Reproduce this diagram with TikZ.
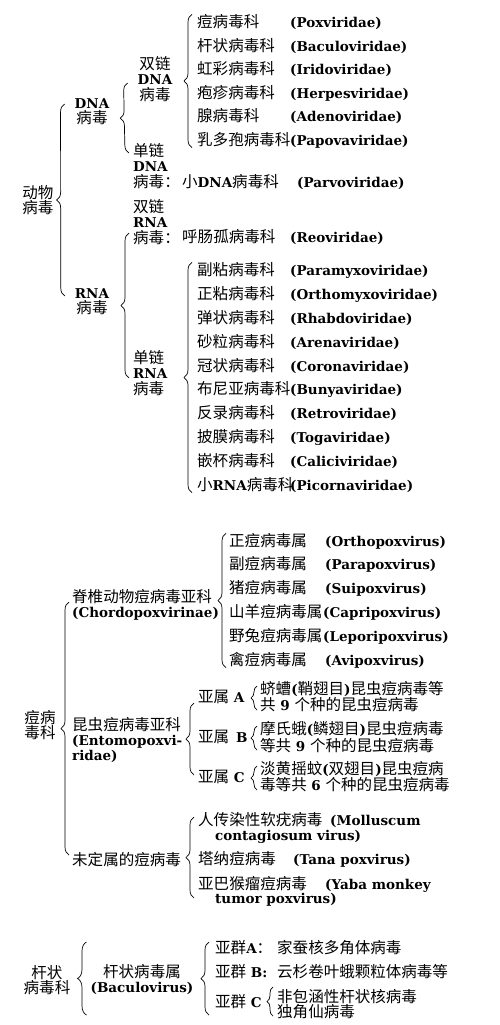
\documentclass[tikz,border=0pt]{standalone}
\usepackage{fontspec}
\setmainfont{DejaVu Serif}
\newfontfamily\cjk{Noto Sans CJK SC}[Scale=1.15]
\usetikzlibrary{decorations.pathreplacing}

% switch to the CJK font for Chinese characters
\XeTeXinterchartokenstate=1
\newXeTeXintercharclass\cjkclass
\newcount\cjkcode
\cjkcode="3000
\loop
  \XeTeXcharclass\cjkcode=\cjkclass
  \advance\cjkcode by 1
\ifnum\cjkcode<"A000 \repeat
\cjkcode="FF00
\loop
  \XeTeXcharclass\cjkcode=\cjkclass
  \advance\cjkcode by 1
\ifnum\cjkcode<"FFF0 \repeat
\XeTeXinterchartoks 0 \cjkclass = {\begingroup\cjk\mdseries}
\XeTeXinterchartoks 4095 \cjkclass = {\begingroup\cjk\mdseries}
\XeTeXinterchartoks \cjkclass 0 = {\endgroup}
\XeTeXinterchartoks \cjkclass 4095 = {\endgroup}

\tikzset{
  txt/.style={anchor=west, inner sep=0pt, text height=13pt, text depth=2pt},
  lbl/.style={inner sep=0pt, align=center},
  lbll/.style={inner sep=0pt, align=left, anchor=west},
  tall/.style={font=\fontsize{13.5}{15.5}\selectfont\bfseries},
  brace/.style={decorate, decoration={brace, amplitude=8pt}, line width=0.7pt},
  lbrace/.style={decorate, decoration={brace, amplitude=9pt}, line width=0.7pt},
  sbrace/.style={decorate, decoration={brace, amplitude=6pt}, line width=0.7pt},
}

\begin{document}
\begin{tikzpicture}[x=1pt, y=-1pt, font=\fontsize{13.5}{15}\selectfont\bfseries]
    \path[fill=white] (0,0) rectangle (500,1025);

    % Animal viruses
    \node[lbl] (animal) at (38,200) {动物\\病毒};
    \node[lbl] (dna) at (92,112) {DNA\\病毒};
    \node[lbl] (rna) at (92,302) {RNA\\病毒};
    \draw[brace] ([shift={(-10,-6)}]rna.west) -- ([shift={(-10,-8)}]dna.west);

    % DNA viruses
    \node[lbl,tall] (dsdna) at (155,79) {双链\\DNA\\病毒};
    \node[lbll,tall] (ssdna) at (133,166) {单链\\DNA\\病毒：};
    \draw[brace] ([shift={(-4,-13)}]ssdna.west) -- ([shift={(-10,4)}]dsdna.west);

    \node[txt] (d1) at (197,22) {痘病毒科};
    \node[txt] (d1l) at (290,22) {(Poxviridae)};
    \node[txt] (d2) at (197,46) {杆状病毒科};
    \node[txt] (d2l) at (290,46) {(Baculoviridae)};
    \node[txt] (d3) at (197,69) {虹彩病毒科};
    \node[txt] (d3l) at (290,69) {(Iridoviridae)};
    \node[txt] (d4) at (197,93) {疱疹病毒科};
    \node[txt] (d4l) at (290,93) {(Herpesviridae)};
    \node[txt] (d5) at (197,116) {腺病毒科};
    \node[txt] (d5l) at (290,116) {(Adenoviridae)};
    \node[txt] (d6) at (197,140) {乳多孢病毒科};
    \node[txt] (d6l) at (290,140) {(Papovaviridae)};
    \draw[brace] ([xshift=-5pt]d6.south west) -- ([xshift=-5pt]d1.north west);

    \node[txt] (parvo) at (182,182) {小DNA病毒科};
    \node[txt] (parvol) at (297,182) {(Parvoviridae)};

    % RNA viruses
    \node[lbll,tall] (dsrna) at (133,222) {双链\\RNA\\病毒：};
    \node[txt] (reo) at (182,237) {呼肠孤病毒科};
    \node[txt] (reol) at (290,237) {(Reoviridae)};
    \node[lbll,tall] (ssrna) at (133,373) {单链\\RNA\\病毒};
    \draw[brace] ([shift={(-4,5)}]ssrna.west) -- ([shift={(-4,11)}]dsrna.west);

    \node[txt] (r1) at (197,270) {副粘病毒科};
    \node[txt] (r1l) at (290,270) {(Paramyxoviridae)};
    \node[txt] (r2) at (197,294) {正粘病毒科};
    \node[txt] (r2l) at (290,294) {(Orthomyxoviridae)};
    \node[txt] (r3) at (197,318) {弹状病毒科};
    \node[txt] (r3l) at (290,318) {(Rhabdoviridae)};
    \node[txt] (r4) at (197,342) {砂粒病毒科};
    \node[txt] (r4l) at (290,342) {(Arenaviridae)};
    \node[txt] (r5) at (197,366) {冠状病毒科};
    \node[txt] (r5l) at (290,366) {(Coronaviridae)};
    \node[txt] (r6) at (197,389) {布尼亚病毒科};
    \node[txt] (r6l) at (290,389) {(Bunyaviridae)};
    \node[txt] (r7) at (197,413) {反录病毒科};
    \node[txt] (r7l) at (290,413) {(Retroviridae)};
    \node[txt] (r8) at (197,437) {披膜病毒科};
    \node[txt] (r8l) at (290,437) {(Togaviridae)};
    \node[txt] (r9) at (197,461) {嵌杯病毒科};
    \node[txt] (r9l) at (290,461) {(Caliciviridae)};
    \node[txt] (r10) at (197,485) {小RNA病毒科};
    \node[txt] (r10l) at (290,485) {(Picornaviridae)};
    \draw[brace] ([xshift=-5pt]r10.south west) -- ([xshift=-5pt]r1.north west);

    % Poxviridae
    \node[lbl] (pox) at (40,725) {痘病\\毒科};
    \node[lbll] (chordo) at (72,605) {脊椎动物痘病毒亚科\\(Chordopoxvirinae)};
    \node[lbll] (entomo) at (72,740) {昆虫痘病毒亚科\\(Entomopoxvi-\\ridae)};
    \node[txt] (undet) at (72,860) {未定属的痘病毒};
    \draw[brace] ([shift={(-3,-5)}]undet.west) -- ([shift={(-3,-3)}]chordo.west);

    \node[txt] (g1) at (229,541) {正痘病毒属};
    \node[txt] (g1l) at (325,541) {(Orthopoxvirus)};
    \node[txt] (g2) at (229,564) {副痘病毒属};
    \node[txt] (g2l) at (325,564) {(Parapoxvirus)};
    \node[txt] (g3) at (229,588) {猪痘病毒属};
    \node[txt] (g3l) at (325,588) {(Suipoxvirus)};
    \node[txt] (g4) at (229,612) {山羊痘病毒属};
    \node[txt] (g4l) at (323,612) {(Capripoxvirus)};
    \node[txt] (g5) at (229,636) {野兔痘病毒属};
    \node[txt] (g5l) at (323,636) {(Leporipoxvirus)};
    \node[txt] (g6) at (229,660) {禽痘病毒属};
    \node[txt] (g6l) at (325,660) {(Avipoxvirus)};
    \draw[brace] ([xshift=-3pt]g6.south west) -- ([xshift=-3pt]g1.north west);

    \node[txt] (sa) at (198,697) {亚属 A};
    \node[lbll] (ta) at (260,697) {蛴螬(鞘翅目)昆虫痘病毒等\\共 9 个种的昆虫痘病毒};
    \draw[sbrace] ([shift={(-3,13)}]ta.west) -- ([shift={(-3,-11)}]ta.west);
    \node[txt] (sb) at (198,737) {亚属\enspace B};
    \node[lbll] (tb) at (260,737) {摩氏蛾(鳞翅目)昆虫痘病毒\\等共 9 个种的昆虫痘病毒};
    \draw[sbrace] ([shift={(-3,13)}]tb.west) -- ([shift={(-3,-11)}]tb.west);
    \node[txt] (sc) at (198,777) {亚属 C};
    \node[lbll] (tc) at (260,777) {淡黄摇蚊(双翅目)昆虫痘病\\毒等共 6 个种的昆虫痘病毒};
    \draw[sbrace] ([shift={(-3,13)}]tc.west) -- ([shift={(-3,-11)}]tc.west);
    \draw[brace] ([shift={(-4,-2)}]sc.west) -- ([shift={(-4,6)}]sa.west);

    \node[txt] (mol) at (198,820) {人传染性软疣病毒};
    \node[txt] (moll) at (330,820) {(Molluscum};
    \node[txt] (moll2) at (215,835) {contagiosum virus)};
    \node[txt] (tana) at (198,859) {塔纳痘病毒};
    \node[txt] (tanal) at (293,859) {(Tana poxvirus)};
    \node[txt] (yaba) at (198,884) {亚巴猴瘤痘病毒};
    \node[txt] (yabal) at (325,884) {(Yaba monkey};
    \node[txt] (yabal2) at (215,898) {tumor poxvirus)};
    \draw[brace] ([shift={(-4,14)}]yaba.west) -- ([shift={(-4,-3)}]mol.west);

    % Baculoviridae
    \node[lbl] (bac) at (47,980) {杆状\\病毒科};
    \node[lbl] (bacg) at (142,980) {杆状病毒属\\(Baculovirus)};
    \draw[lbrace] ([shift={(-4,35)}]bacg.west) -- ([shift={(-4,-38)}]bacg.west);

    \node[txt] (ga) at (215,948) {亚群A：};
    \node[txt] (gat) at (277,948) {家蚕核多角体病毒};
    \node[txt] (gb) at (215,972) {亚群 B:};
    \node[txt] (gbt) at (277,972) {云杉卷叶蛾颗粒体病毒等};
    \node[txt] (gc) at (215,1002) {亚群 C};
    \node[lbll] (gct) at (277,1004) {非包涵性杆状核病毒\\独角仙病毒};
    \draw[sbrace] ([shift={(-4,12)}]gct.west) -- ([shift={(-4,-17)}]gct.west);
    \draw[brace] ([shift={(-6,13)}]gc.west) -- ([shift={(-6,-6)}]ga.west);
\end{tikzpicture}
\end{document}
